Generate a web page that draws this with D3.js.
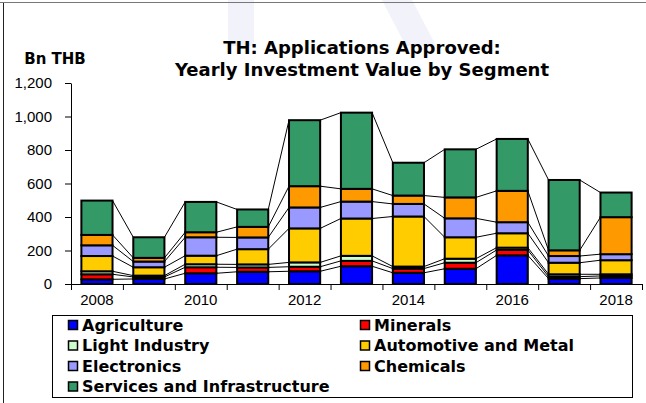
<!DOCTYPE html>
<html>
<head>
<meta charset="utf-8">
<script src="https://cdn.jsdelivr.net/npm/d3@7"></script>
<style>
  html, body { margin: 0; padding: 0; background: #fff; }
  svg { display: block; font-family: "Liberation Sans", Arial, sans-serif; }
</style>
</head>
<body>
<div id="chart"></div>
<script>
const years = [2008, 2009, 2010, 2011, 2012, 2013, 2014, 2015, 2016, 2017, 2018];
const segments = ['Agriculture', 'Minerals', 'Light Industry', 'Automotive and Metal', 'Electronics', 'Chemicals', 'Services and Infrastructure'];
const colors = ['#0000ff', '#ff0000', '#ccffcc', '#ffcc00', '#9999ff', '#ff9900', '#339966'];

// Bn THB
const agriculture = [28, 30, 64, 73, 76, 106, 67, 91, 171, 32, 36];
const minerals = [30, 12, 36, 26, 27, 32, 25, 36, 32, 12, 12];
const lightIndustry = [18, 8, 18, 18, 26, 30, 12, 24, 14, 14, 10];
const automotive = [91, 50, 51, 91, 203, 223, 299, 128, 86, 69, 84];
const electronics = [64, 34, 110, 70, 125, 101, 75, 113, 66, 40, 36];
const chemicals = [62, 22, 30, 63, 127, 76, 50, 125, 187, 34, 221];
const services = [205, 123, 181, 104, 394, 455, 196, 287, 310, 420, 147];

const yTicks = [0, 200, 400, 600, 800, 1000, 1200];
const yearLabels = [2008, 2010, 2012, 2014, 2016, 2018];

const W = 646;
const H = 403;
const plot = { left: 71, right: 642, top: 83, bottom: 284 };
const BOLD_FONT = '"DejaVu Sans", Arial, sans-serif';

const series = [agriculture, minerals, lightIndustry, automotive, electronics, chemicals, services];
const rows = years.map((year, i) => {
  const row = { year };
  segments.forEach((name, k) => row[name] = series[k][i]);
  return row;
});
const stacked = d3.stack().keys(segments)(rows);

const svg = d3.select('#chart')
  .append('svg')
  .attr('width', W)
  .attr('height', H);

// faint watermark behind everything
svg.append('path')
  .attr('d', 'M228,0 L254,0 L254,46 L228,46 Z')
  .attr('fill', '#f1f2fa');
svg.append('path')
  .attr('d', 'M382,0 L412,0 L436,46 L406,46 Z')
  .attr('fill', '#f1f2fa');

// outer frame
svg.append('line')
  .attr('x1', 0).attr('x2', W)
  .attr('y1', 2.5).attr('y2', 2.5)
  .attr('stroke', '#777');
svg.append('line')
  .attr('x1', 3.5).attr('x2', 3.5)
  .attr('y1', 3).attr('y2', H)
  .attr('stroke', '#222');

const x = d3.scaleBand()
  .domain(years)
  .range([plot.left, plot.right])
  .paddingInner(0.4)
  .paddingOuter(0.2);
const y = d3.scaleLinear()
  .domain([0, 1200])
  .range([plot.bottom, plot.top]);
const slot = d3.scaleLinear()
  .domain([0, years.length])
  .range([plot.left, plot.right]);

// connector lines between stacked boundaries
const links = svg.append('g')
  .attr('stroke', '#000')
  .attr('stroke-width', 1);
stacked.forEach(layer => {
  for (let i = 0; i < layer.length - 1; i++) {
    links.append('line')
      .attr('x1', x(years[i]) + x.bandwidth())
      .attr('x2', x(years[i + 1]))
      .attr('y1', y(layer[i][1]))
      .attr('y2', y(layer[i + 1][1]));
  }
});

// bars
svg.append('g')
  .selectAll('g')
  .data(stacked)
  .join('g')
    .attr('fill', (_, k) => colors[k])
  .selectAll('rect')
  .data(d => d)
  .join('rect')
    .attr('x', d => x(d.data.year))
    .attr('y', d => y(d[1]))
    .attr('width', x.bandwidth())
    .attr('height', d => y(d[0]) - y(d[1]))
    .attr('stroke', '#000')
    .attr('stroke-width', 2);

// y axis
const yAxis = svg.append('g')
  .attr('transform', `translate(${plot.left},0)`)
  .call(d3.axisLeft(y)
    .tickValues(yTicks)
    .tickFormat(d3.format(','))
    .tickSize(6)
    .tickSizeOuter(0)
    .tickPadding(13));
yAxis.select('.domain').attr('stroke', '#000');
yAxis.selectAll('text')
  .attr('font-size', 15)
  .attr('font-family', '"Liberation Sans", Arial, sans-serif')
  .attr('fill', '#000');

// x axis: boundary ticks + year labels
svg.append('g')
  .attr('transform', `translate(0,${plot.bottom})`)
  .call(d3.axisBottom(slot)
    .tickValues(d3.range(years.length + 1))
    .tickFormat('')
    .tickSize(6)
    .tickSizeOuter(0))
  .select('.domain').attr('stroke', '#000');
const xAxis = svg.append('g')
  .attr('transform', `translate(0,${plot.bottom})`)
  .call(d3.axisBottom(x)
    .tickValues(yearLabels)
    .tickSize(0)
    .tickPadding(10));
xAxis.select('.domain').remove();
xAxis.selectAll('text')
  .attr('font-size', 15)
  .attr('font-family', '"Liberation Sans", Arial, sans-serif')
  .attr('fill', '#000');

// titles
svg.append('text')
  .attr('x', 55)
  .attr('y', 64)
  .attr('text-anchor', 'middle')
  .attr('font-family', BOLD_FONT)
  .attr('font-weight', 'bold')
  .attr('font-size', 15)
  .text('Bn THB');
const title = svg.append('text')
  .attr('text-anchor', 'middle')
  .attr('font-family', BOLD_FONT)
  .attr('font-weight', 'bold')
  .attr('font-size', 18);
title.append('tspan').attr('x', 362).attr('y', 54).text('TH: Applications Approved:');
title.append('tspan').attr('x', 362).attr('y', 76).text('Yearly Investment Value by Segment');

// legend
const legend = svg.append('g');
legend.append('rect')
  .attr('x', 52.5).attr('y', 315.5)
  .attr('width', 580).attr('height', 82)
  .attr('fill', 'none')
  .attr('stroke', '#000');
segments.forEach((name, k) => {
  const col = k % 2, row = Math.floor(k / 2);
  const lx = col === 0 ? 68 : 360;
  const ly = 325 + row * 20.5;
  legend.append('rect')
    .attr('x', lx + 0.5).attr('y', ly - 4.5)
    .attr('width', 9).attr('height', 9)
    .attr('fill', colors[k])
    .attr('stroke', '#000')
    .attr('stroke-width', 1.5);
  legend.append('text')
    .attr('x', lx + 14)
    .attr('y', ly)
    .attr('dy', '0.36em')
    .attr('font-family', BOLD_FONT)
    .attr('font-weight', 'bold')
    .attr('font-size', 16)
    .text(name);
});
</script>
</body>
</html>
